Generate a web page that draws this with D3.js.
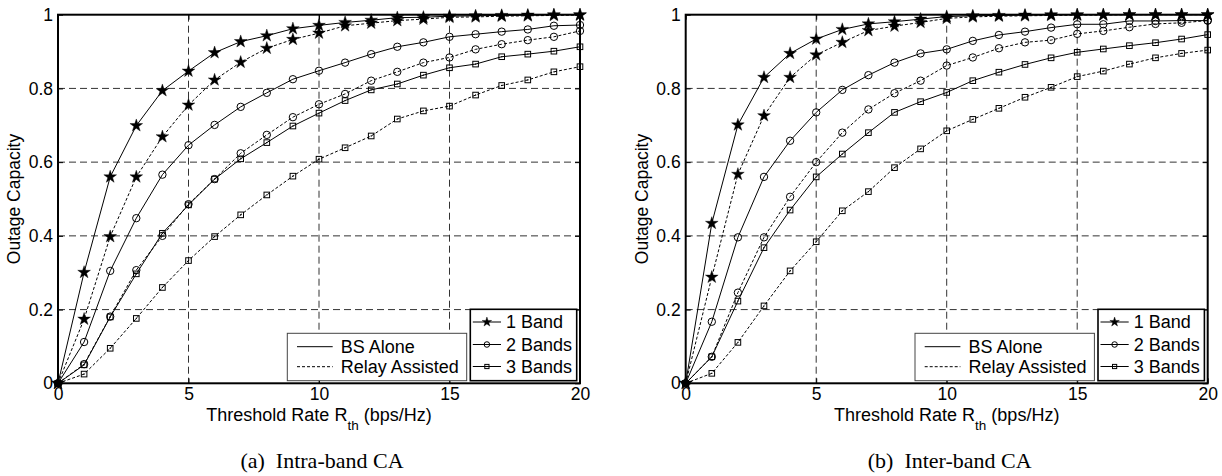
<!DOCTYPE html>
<html><head><meta charset="utf-8">
<script src="https://cdn.jsdelivr.net/npm/d3@7"></script>
<style>
body{margin:0;background:#fff}
</style>
</head><body>
<svg id="c" width="1222" height="476"></svg>
<script>
// ---------- data ----------
const rates = [0,1,2,3,4,5,6,7,8,9,10,11,12,13,14,15,16,17,18,19,20];
const xTicks = [0,5,10,15,20];
const yTicks = [0,0.2,0.4,0.6,0.8,1];
const yTickLabels = ["0","0.2","0.4","0.6","0.8","1"];
const bandNames = ["1 Band","2 Bands","3 Bands"];
const modeNames = ["BS Alone","Relay Assisted"];
const captions = ["(a)  Intra-band CA","(b)  Inter-band CA"];

// (a) Intra-band CA
const intraBS1    = [0,0.301,0.560,0.699,0.794,0.847,0.897,0.927,0.943,0.962,0.971,0.979,0.985,0.992,0.993,0.996,0.997,0.998,0.999,1.000,1.000];
const intraRelay1 = [0,0.174,0.398,0.560,0.669,0.755,0.823,0.871,0.909,0.933,0.950,0.970,0.977,0.984,0.988,0.993,0.994,0.996,0.997,0.998,0.999];
const intraBS2    = [0,0.112,0.305,0.448,0.566,0.646,0.701,0.750,0.788,0.825,0.848,0.870,0.893,0.913,0.925,0.940,0.947,0.954,0.960,0.970,0.972];
const intraRelay2 = [0,0.052,0.181,0.307,0.400,0.486,0.554,0.624,0.674,0.722,0.757,0.785,0.821,0.845,0.870,0.884,0.906,0.920,0.931,0.940,0.956];
const intraBS3    = [0,0.050,0.180,0.297,0.407,0.484,0.554,0.609,0.653,0.698,0.733,0.767,0.796,0.812,0.836,0.856,0.866,0.886,0.893,0.901,0.913];
const intraRelay3 = [0,0.025,0.095,0.176,0.260,0.333,0.398,0.457,0.511,0.562,0.608,0.639,0.671,0.717,0.739,0.752,0.782,0.808,0.823,0.845,0.859];

// (b) Inter-band CA
const interBS1    = [0,0.434,0.701,0.830,0.895,0.934,0.960,0.975,0.981,0.988,0.995,0.997,0.998,0.999,1.000,1.000,1.000,1.000,1.000,1.000,1.000];
const interRelay1 = [0,0.288,0.567,0.726,0.830,0.891,0.925,0.957,0.969,0.979,0.990,0.994,0.996,0.997,0.998,0.999,0.999,1.000,1.000,1.000,1.000];
const interBS2    = [0,0.167,0.396,0.560,0.658,0.735,0.796,0.836,0.870,0.895,0.906,0.929,0.945,0.954,0.965,0.974,0.974,0.983,0.983,0.984,0.984];
const interRelay2 = [0,0.072,0.246,0.396,0.506,0.600,0.680,0.743,0.787,0.821,0.862,0.884,0.909,0.925,0.931,0.948,0.956,0.966,0.975,0.978,0.984];
const interBS3    = [0,0.072,0.223,0.368,0.470,0.560,0.622,0.680,0.735,0.764,0.789,0.821,0.844,0.865,0.883,0.898,0.907,0.916,0.924,0.934,0.946];
const interRelay3 = [0,0.027,0.111,0.210,0.305,0.384,0.468,0.520,0.585,0.636,0.685,0.716,0.746,0.776,0.803,0.832,0.847,0.866,0.883,0.895,0.904];

// ---------- drawing ----------
const SANS = '"Liberation Sans",Arial,Helvetica,sans-serif';
const SERIF = '"Liberation Serif","Times New Roman",serif';
const svg = d3.select("#c");
svg.append("rect").attr("width",1222).attr("height",476).attr("fill","#fff");

const markerTypes = ["star","circle","square"];

function drawMarker(g, type, cx, cy, s) {
  if (type === "star") {
    g.append("path").attr("d", d3.symbol().type(d3.symbolStar).size(50*s*s)())
      .attr("transform",`translate(${cx},${cy})`).attr("fill","#000").attr("stroke","#000").attr("stroke-width",0.4);
  } else if (type === "circle") {
    g.append("circle").attr("cx",cx).attr("cy",cy).attr("r",3.7*s)
      .attr("fill","none").attr("stroke","#000").attr("stroke-width",1);
  } else {
    const h = 2.8*s;
    g.append("rect").attr("x",cx-h).attr("y",cy-h).attr("width",2*h).attr("height",2*h)
      .attr("fill","none").attr("stroke","#000").attr("stroke-width",1);
    g.append("rect").attr("x",cx-0.6).attr("y",cy-0.6).attr("width",1.2).attr("height",1.2).attr("fill","#000");
  }
}

function drawPanel(x0, series, caption) {
  const W = 522, top = 14.7, bottom = 383.3;
  const x = d3.scaleLinear().domain([0,20]).range([x0, x0+W]);
  const y = d3.scaleLinear().domain([0,1]).range([bottom, top]);
  const g = svg.append("g");

  g.append("rect").attr("x",x0).attr("y",top).attr("width",W).attr("height",bottom-top).attr("fill","#fff");

  // grid
  const grid = g.append("g").attr("stroke","#333").attr("stroke-width",1).attr("stroke-dasharray","7,4");
  [5,10,15].forEach(v => grid.append("line").attr("x1",x(v)).attr("x2",x(v)).attr("y1",top).attr("y2",bottom));
  [0.2,0.4,0.6,0.8].forEach(v => grid.append("line").attr("x1",x0).attr("x2",x0+W).attr("y1",y(v)).attr("y2",y(v)));

  // axes
  const ax = g.append("g").attr("transform",`translate(0,${bottom})`)
    .call(d3.axisBottom(x).tickValues(xTicks).tickSize(-5).tickPadding(4.5).tickFormat(d3.format("d")));
  const ay = g.append("g").attr("transform",`translate(${x0},0)`)
    .call(d3.axisLeft(y).tickValues(yTicks).tickSize(-5).tickPadding(5).tickFormat((d,i)=>yTickLabels[i]));
  const at = g.append("g").attr("transform",`translate(0,${top})`)
    .call(d3.axisTop(x).tickValues(xTicks).tickSize(-5).tickFormat(""));
  const ar = g.append("g").attr("transform",`translate(${x0+W},0)`)
    .call(d3.axisRight(y).tickValues(yTicks).tickSize(-5).tickFormat(""));
  [ax,ay,at,ar].forEach(a => {
    a.select(".domain").remove();
    a.selectAll("line").attr("stroke","#000");
    a.selectAll("text").style("font-size","17.5px").style("font-family",SANS).attr("fill","#000");
  });

  // series
  const line = d3.line().x((d,i)=>x(rates[i])).y(d=>y(d));
  series.forEach(s => {
    g.append("path").datum(s.values).attr("d",line).attr("fill","none")
      .attr("stroke","#000").attr("stroke-width",1)
      .attr("stroke-dasharray", s.relay ? "3,2" : null);
  });
  series.forEach(s => {
    s.values.forEach((v,i) => drawMarker(g, markerTypes[s.band], x(rates[i]), y(v), 1));
  });

  // frame
  g.append("rect").attr("x",x0).attr("y",top).attr("width",W).attr("height",bottom-top)
    .attr("fill","none").attr("stroke","#000").attr("stroke-width",2);

  // axis labels
  const xl = g.append("text").attr("x",x0+W/2).attr("y",420.5).attr("text-anchor","middle")
    .style("font-family",SANS).style("font-size","18px");
  xl.append("tspan").text("Threshold Rate R");
  xl.append("tspan").attr("dy",9).style("font-size","13.5px").text("th");
  xl.append("tspan").attr("dy",-9).text(" (bps/Hz)");
  g.append("text").attr("transform",`translate(${x0-38},${(top+bottom)/2}) rotate(-90)`)
    .attr("text-anchor","middle").style("font-family",SANS).style("font-size","17.5px").text("Outage Capacity");

  // legend: line styles
  const lg = g.append("g");
  lg.append("rect").attr("x",x0+229.3).attr("y",333.3).attr("width",179.4).attr("height",47.4)
    .attr("fill","#fff").attr("stroke","#444").attr("stroke-width",1);
  const rowsL = [346.7, 366.7];
  modeNames.forEach((name,i) => {
    lg.append("line").attr("x1",x0+239).attr("x2",x0+274.7).attr("y1",rowsL[i]).attr("y2",rowsL[i])
      .attr("stroke","#000").attr("stroke-width",1).attr("stroke-dasharray", i===1 ? "3,2" : null);
    lg.append("text").attr("x",x0+282.7).attr("y",rowsL[i]+6.3)
      .style("font-family",SANS).style("font-size","18px").text(name);
  });

  // legend: markers
  const mg = g.append("g");
  mg.append("rect").attr("x",x0+412.3).attr("y",309.3).attr("width",106.4).attr("height",71.4)
    .attr("fill","#fff").attr("stroke","#000").attr("stroke-width",1.6);
  const rowsM = [322, 344.5, 366.5];
  bandNames.forEach((name,i) => {
    mg.append("line").attr("x1",x0+414.8).attr("x2",x0+443).attr("y1",rowsM[i]).attr("y2",rowsM[i])
      .attr("stroke","#000").attr("stroke-width",1);
    drawMarker(mg, markerTypes[i], x0+428.9, rowsM[i], 0.75);
    mg.append("text").attr("x",x0+448).attr("y",rowsM[i]+6.3)
      .style("font-family",SANS).style("font-size","18px").text(name);
  });

  // caption
  g.append("text").attr("x",x0+264).attr("y",468).attr("text-anchor","middle")
    .style("font-family",SERIF).style("font-size","22px").style("white-space","pre")
    .text(caption);
}

drawPanel(58, [
  {band:0, relay:false, values:intraBS1},
  {band:0, relay:true,  values:intraRelay1},
  {band:1, relay:false, values:intraBS2},
  {band:1, relay:true,  values:intraRelay2},
  {band:2, relay:false, values:intraBS3},
  {band:2, relay:true,  values:intraRelay3}
], captions[0]);

drawPanel(685.7, [
  {band:0, relay:false, values:interBS1},
  {band:0, relay:true,  values:interRelay1},
  {band:1, relay:false, values:interBS2},
  {band:1, relay:true,  values:interRelay2},
  {band:2, relay:false, values:interBS3},
  {band:2, relay:true,  values:interRelay3}
], captions[1]);
</script>
</body></html>
